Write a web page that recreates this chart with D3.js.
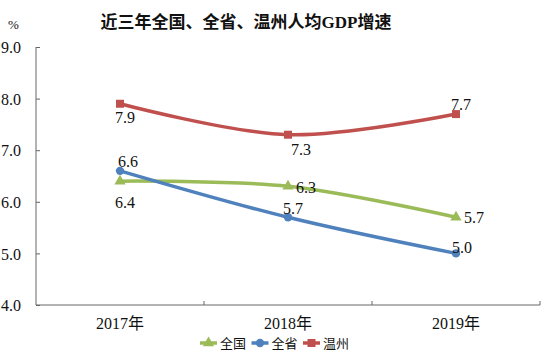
<!DOCTYPE html>
<html>
<head>
<meta charset="utf-8">
<script src="https://cdn.jsdelivr.net/npm/d3@7"></script>
<style>
  body { margin: 0; background: #fff; }
  svg text { font-family: "Liberation Serif", "Noto Sans CJK SC", serif; fill: #111; }
</style>
</head>
<body>
<div id="chart"></div>
<script>
var years = ["2017年", "2018年", "2019年"]
var yTicks = [4, 5, 6, 7, 8, 9]
var nation = [6.4, 6.3, 5.7]
var province = [6.6, 5.7, 5.0]
var wenzhou = [7.9, 7.3, 7.7]

var width = 550
var height = 359

var svg = d3.select("#chart")
  .append("svg")
    .attr("width", width)
    .attr("height", height)

var x = d3.scaleBand()
  .domain(years)
  .range([36, 540])

var y = d3.scaleLinear()
  .domain([4, 9])
  .range([305, 47])

// title
svg.append("text")
  .attr("x", 246).attr("y", 28)
  .attr("text-anchor", "middle")
  .style("font-size", "17px")
  .style("font-weight", "bold")
  .text("近三年全国、全省、温州人均GDP增速")

svg.append("text")
  .attr("x", 13.5).attr("y", 24)
  .attr("text-anchor", "middle")
  .attr("dy", "0.35em")
  .style("font-size", "13px")
  .text("%")

// y axis, ticks pointing inward
var yAxis = svg.append("g")
  .attr("transform", "translate(36,0)")
  .call(d3.axisRight(y).tickValues(yTicks).tickSize(4).tickFormat(d3.format(".1f")))
yAxis.selectAll("text")
  .style("font-size", "16px")
  .attr("text-anchor", "end")
  .attr("x", -15)
  .attr("dy", "0.35em")
yAxis.select(".domain").attr("stroke", "#666").attr("d", "M0," + y(9) + "V" + y(4))
yAxis.selectAll(".tick line").attr("stroke", "#666")

// x axis, ticks on band edges pointing up
var xAxis = svg.append("g")
  .attr("transform", "translate(0,305)")
xAxis.append("line")
  .attr("x1", 36).attr("x2", 540)
  .attr("stroke", "#666")
xAxis.selectAll(".edge")
  .data(years)
  .enter().append("line")
    .attr("x1", function(d){ return x(d) + x.bandwidth() })
    .attr("x2", function(d){ return x(d) + x.bandwidth() })
    .attr("y1", 0).attr("y2", -4)
    .attr("stroke", "#666")
xAxis.selectAll(".lab")
  .data(years)
  .enter().append("text")
    .attr("x", function(d){ return x(d) + x.bandwidth() / 2 })
    .attr("y", 24)
    .attr("text-anchor", "middle")
    .style("font-size", "16px")
    .text(function(d){ return d })

var cx = function(i){ return x(years[i]) + x.bandwidth() / 2 }

var line = d3.line()
  .x(function(d, i){ return cx(i) })
  .y(function(d){ return y(d) })
  .curve(d3.curveCatmullRom.alpha(0.5))

var series = [
  { name: "全国", values: nation, color: "#9BBB59", shape: d3.symbolTriangle, size: 55 },
  { name: "全省", values: province, color: "#4F81BD", shape: d3.symbolCircle, size: 55 },
  { name: "温州", values: wenzhou, color: "#C0504D", shape: d3.symbolSquare, size: 64 }
]

series.forEach(function(s){
  svg.append("path")
    .attr("d", line(s.values))
    .attr("fill", "none")
    .attr("stroke", s.color)
    .attr("stroke-width", 3.5)
  svg.selectAll(null)
    .data(s.values)
    .enter().append("path")
      .attr("d", d3.symbol().type(s.shape).size(s.size))
      .attr("transform", function(d, i){ return "translate(" + cx(i) + "," + y(d) + ")" })
      .attr("fill", s.color)
})

// data labels: offsets per series point
var labelOffsets = {
  "全国": [[5, 21], [18, 1], [18, 0]],
  "全省": [[8, -9], [5, -9], [6, -6]],
  "温州": [[5, 14], [13, 15], [5, -10]]
}
series.forEach(function(s){
  svg.selectAll(null)
    .data(s.values)
    .enter().append("text")
      .attr("x", function(d, i){ return cx(i) + labelOffsets[s.name][i][0] })
      .attr("y", function(d, i){ return y(d) + labelOffsets[s.name][i][1] })
      .attr("text-anchor", "middle")
      .attr("dy", "0.35em")
      .style("font-size", "16px")
      .text(function(d){ return d3.format(".1f")(d) })
})

// legend
var legend = svg.append("g").attr("transform", "translate(200,343)")
series.forEach(function(s, i){
  var g = legend.append("g").attr("transform", "translate(" + (i * 51.5) + ",0)")
  g.append("line").attr("x1", 0).attr("x2", 17).attr("stroke", s.color).attr("stroke-width", 3.5)
  g.append("path")
    .attr("d", d3.symbol().type(s.shape).size(s.size))
    .attr("transform", "translate(8.5,0)")
    .attr("fill", s.color)
  g.append("text")
    .attr("x", 20).attr("dy", "0.38em")
    .style("font-size", "13px")
    .text(s.name)
})
</script>
</body>
</html>
